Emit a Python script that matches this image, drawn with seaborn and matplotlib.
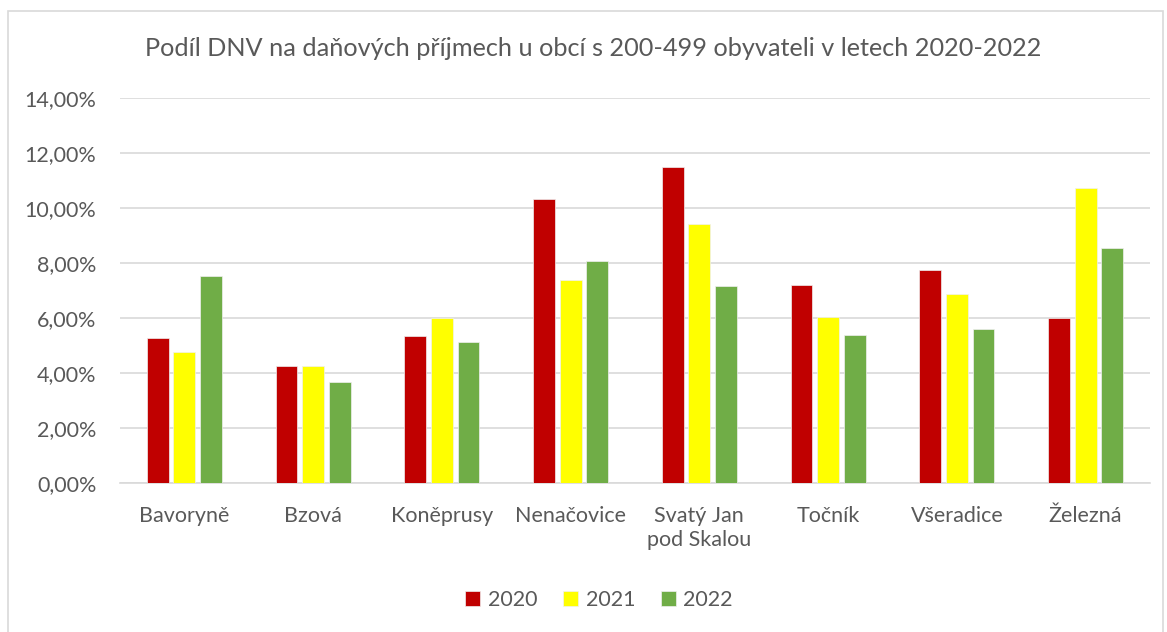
import matplotlib
matplotlib.use("Agg")
import matplotlib.pyplot as plt
import matplotlib.patches as mpatches
from matplotlib.ticker import FuncFormatter, MultipleLocator
import seaborn as sns
import pandas as pd

categories = ["Bavoryně", "Bzová", "Koněprusy", "Nenačovice", "Svatý Jan\npod Skalou",
              "Točník", "Všeradice", "Železná"]
years = ["2020", "2021", "2022"]
values_2020 = [5.27, 4.27, 5.36, 10.33, 11.51, 7.22, 7.75, 6.02]
values_2021 = [4.77, 4.25, 6.01, 7.38, 9.44, 6.04, 6.90, 10.74]
values_2022 = [7.55, 3.67, 5.15, 8.10, 7.17, 5.38, 5.62, 8.57]
colors = ["#C00000", "#FFFF00", "#70AD47"]
title = "Podíl DNV na daňových příjmech u obcí s 200-499 obyvateli v letech 2020-2022"

rows = []
for yr, vals in zip(years, [values_2020, values_2021, values_2022]):
    for c, v in zip(categories, vals):
        rows.append({"obec": c, "rok": yr, "podil": v})
df = pd.DataFrame(rows)

sns.set_theme(style="white")
plt.rcParams["font.family"] = ["Lato", "DejaVu Sans"]
text_color = "#595959"

fig = plt.figure(figsize=(11.67, 6.32), dpi=100)
ax = fig.add_axes([120 / 1167, 1 - 483.3 / 632, 1030 / 1167, (483.3 - 98.3) / 632])

sns.barplot(data=df, x="obec", y="podil", hue="rok", order=categories, hue_order=years,
            palette=colors, width=0.62, gap=0.18, ax=ax, saturation=1, zorder=3,
            edgecolor="#f0f0f0", linewidth=0.5)

ax.set_ylim(0, 14)
ax.set_xlim(-0.5, len(categories) - 0.5)
ax.yaxis.set_major_locator(MultipleLocator(2))
ax.yaxis.set_major_formatter(FuncFormatter(lambda v, p: f"{v:.2f}".replace(".", ",") + "%"))
ax.grid(axis="y", color="#D9D9D9", linewidth=1.2, zorder=0)
ax.set_axisbelow(True)
for s in ["top", "right", "left"]:
    ax.spines[s].set_visible(False)
ax.spines["bottom"].set_color("#D9D9D9")
ax.spines["bottom"].set_linewidth(1.2)
ax.set_xlabel("")
ax.set_ylabel("")
ax.tick_params(axis="both", length=0, colors=text_color, labelsize=15.5)
ax.tick_params(axis="y", pad=17)
ax.tick_params(axis="x", pad=16)
for lab in ax.get_xticklabels():
    lab.set_linespacing(1.3)

fig.text(593 / 1167, 1 - 48 / 632, title, ha="center", va="center", fontsize=18.2,
         color=text_color)

sns.move_legend(ax, "center", bbox_to_anchor=(599 / 1167, 1 - 600 / 632),
                bbox_transform=fig.transFigure,
                ncol=3, frameon=False, title=None, fontsize=15.5, handlelength=0.7,
                handleheight=0.7, columnspacing=1.2, handletextpad=0.35)
for t in ax.get_legend().get_texts():
    t.set_color(text_color)

border = mpatches.Rectangle((8 / 1167, -0.05), (1163 - 8) / 1167, 1.05 - 11 / 632,
                            transform=fig.transFigure, fill=False, edgecolor="#D9D9D9",
                            linewidth=1.2)
fig.patches.append(border)

fig.savefig("out.png", dpi=100)
